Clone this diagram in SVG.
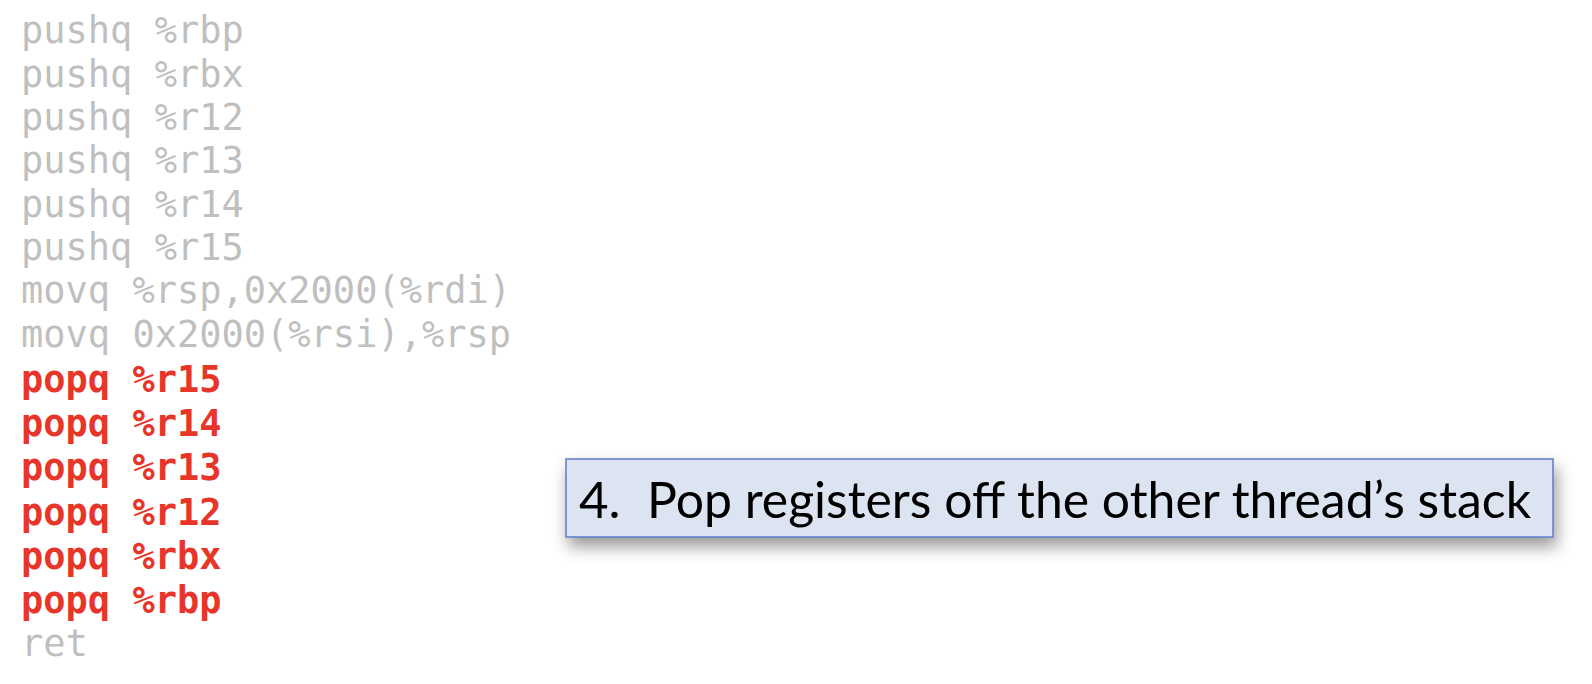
<svg xmlns="http://www.w3.org/2000/svg" width="1592" height="684" viewBox="0 0 1592 684">
  <style>
    .code { font-family: "DejaVu Sans Mono", "Liberation Mono", monospace; font-size: 37px; }
    .gray { fill: #BFBFBF; }
    .red { fill: #E8352A; font-weight: bold; }
    .label { font-family: Lato, "Open Sans", "Liberation Sans", sans-serif; font-size: 51px; fill: #000000; }
  </style>
  <defs>
    <filter id="shadow" x="-10%" y="-50%" width="120%" height="220%">
      <feDropShadow dx="3" dy="9" stdDeviation="8" flood-color="#000000" flood-opacity="0.4"/>
    </filter>
  </defs>
  <rect width="1592" height="684" fill="#FFFFFF"/>
  <g id="code">
    <text class="code gray" x="21" y="43.3">pushq %rbp</text>
    <text class="code gray" x="21" y="86.7">pushq %rbx</text>
    <text class="code gray" x="21" y="130">pushq %r12</text>
    <text class="code gray" x="21" y="173.4">pushq %r13</text>
    <text class="code gray" x="21" y="216.7">pushq %r14</text>
    <text class="code gray" x="21" y="260">pushq %r15</text>
    <text class="code gray" x="21" y="303.4">movq %rsp,0x2000(%rdi)</text>
    <text class="code gray" x="21" y="346.7">movq 0x2000(%rsi),%rsp</text>
    <text class="code red" x="21" y="392">popq %r15</text>
    <text class="code red" x="21" y="436">popq %r14</text>
    <text class="code red" x="21" y="480">popq %r13</text>
    <text class="code red" x="21" y="524.5">popq %r12</text>
    <text class="code red" x="21" y="568.5">popq %rbx</text>
    <text class="code red" x="21" y="612.5">popq %rbp</text>
    <text class="code gray" x="21" y="656">ret</text>
  </g>
  <g id="callout">
    <rect x="566" y="459" width="987" height="78" fill="#DCE3F1" stroke="#5B7CC4" stroke-width="1.5" filter="url(#shadow)"/>
    <text class="label" x="579" y="518">4.</text>
    <text class="label" x="647" y="518" textLength="884" lengthAdjust="spacingAndGlyphs">Pop registers off the other thread’s stack</text>
  </g>
  <g id="connectors"/>
</svg>
